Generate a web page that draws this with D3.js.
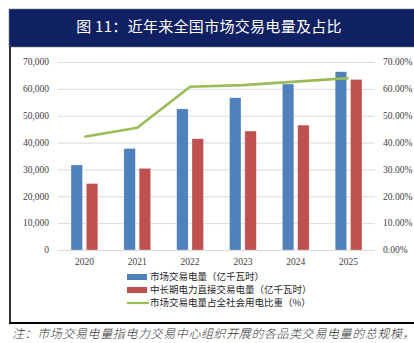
<!DOCTYPE html>
<html>
<head>
<meta charset="utf-8">
<script src="https://cdn.jsdelivr.net/npm/d3@7/dist/d3.min.js"></script>
<style>
  html, body { margin: 0; padding: 0; background: #ffffff; }
  svg { display: block; }
</style>
</head>
<body>
<svg id="chart" width="414" height="343"></svg>
<script>
// Years on the category axis
const years = ["2020", "2021", "2022", "2023", "2024", "2025"];
// 市场交易电量（亿千瓦时）
const marketVolume = [31663, 37787, 52543, 56679, 61796, 66394];
// 中长期电力直接交易电量（亿千瓦时）
const directVolume = [24760, 30404, 41407, 44289, 46500, 63500];
// 市场交易电量占全社会用电比重（%）
const marketShare = [42.2, 45.5, 60.8, 61.4, 62.7, 64.0];
// Axis ticks
const leftTicks = [0, 10000, 20000, 30000, 40000, 50000, 60000, 70000];
const rightTicks = [0, 10, 20, 30, 40, 50, 60, 70];

const seriesNames = ["市场交易电量（亿千瓦时）", "中长期电力直接交易电量（亿千瓦时）", "市场交易电量占全社会用电比重（%）"];
const colors = { market: "#4f81bd", direct: "#c0504d", share: "#9bbb59" };

const svg = d3.select("#chart");
const serif = "'Liberation Serif', 'Times New Roman', serif";
const cjk = "'Noto Sans CJK SC', sans-serif";

// Title banner
svg.append("rect").attr("x", 9).attr("y", 9).attr("width", 410).attr("height", 38)
  .attr("fill", "#0f2162").attr("stroke", "#7f7f7f").attr("stroke-width", 0.6);
svg.append("text").attr("x", 209).attr("y", 32).attr("text-anchor", "middle")
  .attr("fill", "#ffffff").attr("font-family", cjk).attr("font-size", 15)
  .attr("letter-spacing", 0.3).text("图 11：近年来全国市场交易电量及占比");

// Frame (left and bottom rules)
svg.append("line").attr("x1", 10).attr("x2", 10).attr("y1", 47).attr("y2", 323)
  .attr("stroke", "#000").attr("stroke-width", 1.6);
svg.append("line").attr("x1", 9).attr("x2", 414).attr("y1", 323).attr("y2", 323)
  .attr("stroke", "#000").attr("stroke-width", 2);

// Scales
const plot = { left: 58, right: 375, top: 62, bottom: 250 };
const x0 = d3.scaleBand().domain(years).range([plot.left, plot.right]).padding(0);
const x1 = d3.scaleBand().domain(["market", "direct"])
  .range([x0.bandwidth() / 2 - 13.4, x0.bandwidth() / 2 + 13.4]).paddingInner(0.25);
const yL = d3.scaleLinear().domain([0, 70000]).range([plot.bottom, plot.top]);
const yR = d3.scaleLinear().domain([0, 70]).range([plot.bottom, plot.top]);

// Gridlines
svg.append("g").selectAll("line").data(leftTicks).join("line")
  .attr("x1", plot.left).attr("x2", plot.right)
  .attr("y1", d => yL(d) + 0.5).attr("y2", d => yL(d) + 0.5)
  .attr("stroke", "#d9d9d9").attr("stroke-width", 1);

// Left axis labels
const fmt = d3.format(",");
svg.append("g").selectAll("text").data(leftTicks).join("text")
  .attr("x", 49).attr("y", d => yL(d)).attr("dy", "0.35em")
  .attr("text-anchor", "end").attr("font-family", serif).attr("font-size", 9.5)
  .attr("fill", "#404040").text(d => fmt(d));

// Right axis labels
svg.append("g").selectAll("text").data(rightTicks).join("text")
  .attr("x", 383).attr("y", d => yR(d)).attr("dy", "0.35em")
  .attr("text-anchor", "start").attr("font-family", serif).attr("font-size", 9.5)
  .attr("fill", "#404040").text(d => d.toFixed(2) + "%");

// Category labels
svg.append("g").selectAll("text").data(years).join("text")
  .attr("x", d => x0(d) + x0.bandwidth() / 2).attr("y", 262).attr("dy", "0.35em")
  .attr("text-anchor", "middle").attr("font-family", serif).attr("font-size", 9.5)
  .attr("fill", "#404040").text(d => d);

// Bars
const barData = years.flatMap((y, i) => [
  { year: y, key: "market", value: marketVolume[i] },
  { year: y, key: "direct", value: directVolume[i] }
]);
svg.append("g").selectAll("rect").data(barData).join("rect")
  .attr("x", d => x0(d.year) + x1(d.key))
  .attr("y", d => yL(d.value))
  .attr("width", x1.bandwidth())
  .attr("height", d => yL(0) - yL(d.value))
  .attr("fill", d => colors[d.key])
  .attr("stroke", "#ffffff").attr("stroke-opacity", 0.5).attr("stroke-width", 0.6);

// Share line
const line = d3.line()
  .x((d, i) => x0(years[i]) + x0.bandwidth() / 2)
  .y(d => yR(d));
svg.append("path").datum(marketShare).attr("d", line)
  .attr("fill", "none").attr("stroke", colors.share).attr("stroke-width", 2.6)
  .attr("stroke-linejoin", "round");

// Legend
const legend = svg.append("g").attr("font-family", cjk).attr("font-size", 9.5).attr("fill", "#262626");
const legendRows = [
  { name: seriesNames[0], color: colors.market, type: "bar", y: 277 },
  { name: seriesNames[1], color: colors.direct, type: "bar", y: 290 },
  { name: seriesNames[2], color: colors.share, type: "line", y: 303 }
];
legendRows.forEach(r => {
  if (r.type === "bar") {
    legend.append("rect").attr("x", 127).attr("y", r.y - 3).attr("width", 20).attr("height", 6).attr("fill", r.color);
  } else {
    legend.append("line").attr("x1", 127).attr("x2", 149).attr("y1", r.y).attr("y2", r.y)
      .attr("stroke", r.color).attr("stroke-width", 2.2);
  }
  legend.append("text").attr("x", 150).attr("y", r.y).attr("dy", "0.35em").text(r.name);
});

// Footnote
svg.append("text").attr("x", 12).attr("y", 334).attr("dy", "0.35em")
  .attr("font-family", cjk).attr("font-size", 12).attr("font-style", "italic")
  .attr("font-weight", 300).attr("letter-spacing", 0.6).attr("fill", "#333333")
  .text("注：市场交易电量指电力交易中心组织开展的各品类交易电量的总规模，");
</script>
</body>
</html>
